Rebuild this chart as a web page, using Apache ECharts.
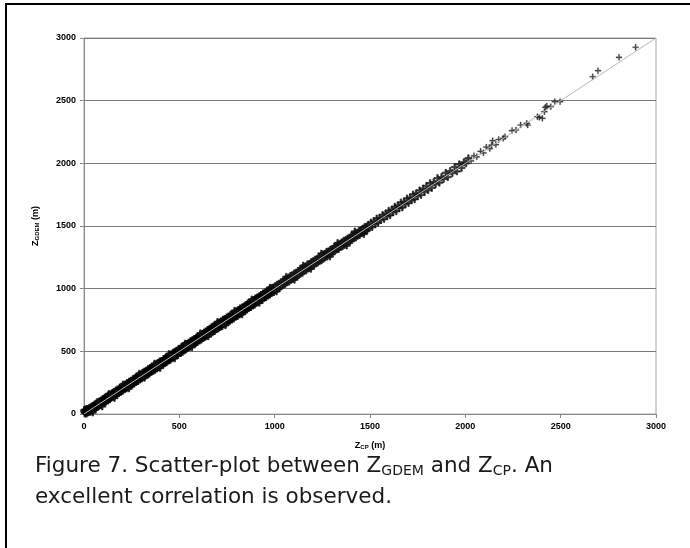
<!DOCTYPE html>
<html>
<head>
<meta charset="utf-8">
<script src="https://cdn.jsdelivr.net/npm/echarts@6/dist/echarts.min.js"></script>
<style>
html,body{margin:0;padding:0;background:#fff;}
#chart{width:690px;height:548px;}
</style>
</head>
<body>
<div id="chart"></div>
<script>
// Axis ticks
var xTicks = [0, 500, 1000, 1500, 2000, 2500, 3000];
var yTicks = [0, 500, 1000, 1500, 2000, 2500, 3000];

// [Z_CP, Z_GDEM] pairs
var band0to500 = [
[2,28],[4,12],[8,34],[12,6],[16,38],[20,15],[24,22],[28,44],[32,20],[35,50],[40,30],[42,58],[48,36],[50,64],[55,44],[58,74],[62,52],[66,82],[70,58],[75,88],[78,66],[82,98],[88,74],[92,106],[96,86],[100,118],[105,92],[110,128],[114,100],[120,136],[124,108],[128,146],[134,118],[138,154],[142,132],[148,164],[152,138],[158,174],[162,148],[168,186],[172,156],[178,194],[182,168],[188,204],[192,178],[198,216],[202,186],[208,224],[212,198],[218,234],[222,206],[228,246],[232,216],[238,256],[242,224],[248,264],[252,238],[258,276],[262,244],[268,284],[272,256],[278,298],[282,264],[288,306],[292,276],[298,314],[302,286],[308,328],[312,294],[318,336],[322,308],[328,344],[332,316],[338,358],[342,324],[348,366],[352,338],[358,374],[362,346],[368,388],[372,354],[378,394],[382,366],[388,406],[392,374],[398,418],[402,388],[408,422],[412,394],[418,438],[422,406],[428,444],[432,414],[438,458],[442,428],[448,466],[452,434],[458,474],[462,446],[468,488],[472,454],[478,496],[482,468],[488,504],[492,474],[498,518]
];
var band500to1000 = [
[502,520],[506,488],[512,532],[516,498],[520,540],[526,510],[530,550],[534,518],[540,558],[544,530],[550,568],[554,538],[560,580],[564,546],[570,588],[574,558],[580,598],[584,568],[590,608],[594,576],[600,618],[604,588],[610,630],[614,596],[620,638],[624,608],[630,648],[634,618],[640,658],[644,626],[650,670],[654,638],[660,678],[664,644],[670,690],[674,658],[680,698],[684,664],[690,710],[694,678],[700,718],[704,686],[710,728],[714,696],[720,738],[724,704],[730,750],[734,718],[740,756],[744,724],[750,768],[754,738],[760,776],[764,746],[770,790],[774,756],[780,798],[784,764],[790,808],[794,778],[800,816],[804,784],[810,828],[814,796],[820,840],[824,804],[830,848],[834,818],[840,856],[844,826],[850,868],[854,834],[860,880],[864,848],[870,888],[874,854],[880,896],[884,866],[890,908],[894,874],[900,920],[904,888],[910,928],[914,894],[920,936],[924,908],[930,948],[934,912],[940,960],[944,928],[950,968],[954,934],[960,976],[964,946],[970,988],[974,954],[980,1000],[984,968],[990,1006],[994,974]
];
var band1000to1500 = [
[1002,1020],[1006,986],[1012,1032],[1016,998],[1022,1040],[1026,1008],[1032,1052],[1036,1018],[1042,1058],[1046,1030],[1052,1072],[1056,1038],[1062,1080],[1066,1050],[1072,1090],[1076,1056],[1082,1102],[1086,1070],[1092,1108],[1096,1078],[1102,1122],[1106,1090],[1112,1128],[1116,1096],[1122,1142],[1126,1108],[1132,1148],[1136,1120],[1142,1162],[1146,1126],[1152,1170],[1156,1140],[1162,1178],[1166,1146],[1172,1194],[1176,1160],[1182,1198],[1186,1166],[1192,1212],[1196,1180],[1202,1220],[1206,1186],[1212,1232],[1216,1200],[1222,1238],[1226,1208],[1232,1252],[1236,1220],[1242,1260],[1246,1226],[1252,1272],[1256,1238],[1262,1278],[1266,1250],[1272,1294],[1276,1256],[1282,1298],[1286,1270],[1292,1312],[1296,1278],[1302,1318],[1306,1292],[1312,1332],[1316,1298],[1322,1338],[1326,1312],[1332,1352],[1336,1316],[1342,1358],[1346,1332],[1352,1370],[1356,1338],[1362,1382],[1366,1348],[1372,1388],[1376,1360],[1382,1400],[1386,1368],[1392,1408],[1396,1380],[1402,1422],[1406,1388],[1412,1426],[1416,1402],[1422,1442],[1426,1408],[1432,1446],[1436,1422],[1442,1462],[1446,1428],[1452,1466],[1456,1442],[1462,1480],[1466,1448],[1472,1492],[1476,1462],[1482,1496],[1486,1468],[1492,1510],[1496,1482]
];
var band1500to2000 = [
[1505,1528],[1512,1492],[1520,1540],[1528,1514],[1535,1560],[1542,1526],[1550,1566],[1558,1548],[1566,1588],[1574,1556],[1582,1600],[1590,1578],[1598,1622],[1606,1586],[1614,1630],[1622,1612],[1630,1654],[1638,1618],[1646,1664],[1654,1644],[1662,1688],[1670,1648],[1678,1694],[1686,1676],[1694,1720],[1702,1684],[1710,1726],[1718,1706],[1726,1752],[1734,1714],[1742,1760],[1750,1738],[1760,1784],[1768,1748],[1778,1798],[1786,1772],[1796,1820],[1805,1786],[1815,1842],[1824,1804],[1834,1850],[1844,1834],[1854,1882],[1864,1846],[1875,1890],[1886,1876],[1897,1924],[1908,1890],[1920,1938],[1932,1922],[1944,1970],[1956,1936],[1968,1992],[1980,1964],[1992,2008],[2004,2000],[2016,2040]
];
var band2000to2500 = [
[2030,2020],[2045,2060],[2060,2052],[2080,2096],[2095,2084],[2110,2130],[2128,2118],[2143,2181],[2138,2146],[2160,2150],[2175,2190],[2199,2200],[2208,2213],[2245,2261],[2266,2266],[2290,2306],[2322,2319],[2327,2306],[2378,2372],[2388,2367],[2404,2359],[2415,2412],[2420,2447],[2427,2457],[2448,2452],[2469,2492],[2497,2492]
];
var topPoints = [[2668,2691],[2696,2739],[2806,2846],[2893,2926]];
var fringe = [
[30,-2],[46,12],[70,96],[96,60],[130,160],[160,128],[205,236],[236,204],[290,322],[318,290],[370,402],[400,368],[445,478],[476,444],[530,562],[566,532],[610,644],[652,620],[700,734],[742,708],[790,824],[830,796],[880,914],[920,888],[975,1008],[1010,978],[1060,1094],[1104,1072],[1150,1184],[1190,1158],[1245,1280],[1290,1256],[1330,1364],[1378,1344],[1420,1456],[1468,1436]
];
// 1:1 reference line end points
var oneToOne = [[0,0],[3000,3000]];

var densePoints = [].concat(band0to500, band500to1000);
var midPoints = [].concat(band1000to1500, band1500to2000, fringe);
var sparsePoints = [].concat(band2000to2500, topPoints);

var plus = 'path://M4,0L6,0L6,4L10,4L10,6L6,6L6,10L4,10L4,6L0,6L0,4L4,4Z';
var chart = echarts.init(document.getElementById('chart'), null, {renderer: 'canvas'});
var lblFont = {color: '#000', fontSize: 9, fontWeight: 'bold', fontFamily: 'Liberation Sans, Arial, sans-serif',
  formatter: function (v) { return String(v); }};

chart.setOption({
  animation: false,
  backgroundColor: '#fff',
  grid: {left: 84, right: 34, top: 38, bottom: 134, show: true, borderColor: '#a8a8a8', borderWidth: 1, backgroundColor: 'transparent'},
  xAxis: {
    type: 'value', min: xTicks[0], max: xTicks[xTicks.length - 1], interval: 500,
    name: '{z|Z}{s|CP}{z| (m)}', nameLocation: 'middle', nameGap: 27,
    nameTextStyle: {rich: {
      z: {fontSize: 9, fontWeight: 'bold', fontFamily: 'Liberation Sans, Arial', color: '#000'},
      s: {fontSize: 6, fontWeight: 'bold', fontFamily: 'Liberation Sans, Arial', color: '#000', padding: [3, 0, 0, 0]}
    }},
    axisLine: {lineStyle: {color: '#8a8a8a', width: 1}},
    axisTick: {show: true, inside: false, length: 4, lineStyle: {color: '#8a8a8a'}},
    axisLabel: Object.assign({margin: 8}, lblFont),
    splitLine: {show: false}
  },
  yAxis: {
    type: 'value', min: yTicks[0], max: yTicks[yTicks.length - 1], interval: 500,
    name: '{z|Z}{s|GDEM}{z| (m)}', nameLocation: 'middle', nameGap: 44, nameRotate: 90,
    nameTextStyle: {rich: {
      z: {fontSize: 9, fontWeight: 'bold', fontFamily: 'Liberation Sans, Arial', color: '#000'},
      s: {fontSize: 6, fontWeight: 'bold', fontFamily: 'Liberation Sans, Arial', color: '#000', padding: [3, 0, 0, 0]}
    }},
    axisLine: {show: true, lineStyle: {color: '#8a8a8a', width: 1}},
    axisTick: {show: true, inside: false, length: 4, lineStyle: {color: '#8a8a8a'}},
    axisLabel: Object.assign({margin: 8}, lblFont),
    splitLine: {show: true, lineStyle: {color: '#7a7a7a', width: 1}}
  },
  series: [
    {
      type: 'scatter', data: densePoints, symbol: plus, symbolSize: 7,
      itemStyle: {color: '#000', borderColor: '#000', borderWidth: 1.3},
      z: 2
    },
    {
      type: 'scatter', data: midPoints, symbol: plus, symbolSize: 7,
      itemStyle: {color: '#111', borderColor: '#111', borderWidth: 0.8},
      z: 2
    },
    {
      type: 'scatter', data: sparsePoints, symbol: plus, symbolSize: 6,
      itemStyle: {color: '#222', borderColor: '#222', borderWidth: 0.3},
      z: 2
    },
    {
      type: 'line', data: oneToOne, symbol: 'none', silent: true,
      lineStyle: {color: '#b8b8b8', width: 1}, z: 3
    }
  ],
  graphic: [
    {type: 'line', shape: {x1: 6, y1: 3, x2: 6, y2: 548}, style: {stroke: '#000', lineWidth: 2}},
    {type: 'line', shape: {x1: 5, y1: 4, x2: 690, y2: 4}, style: {stroke: '#000', lineWidth: 2}},
    {type: 'text', left: 35, top: 455, style: {
      text: '{t|Figure 7. Scatter-plot between Z}{s|GDEM}{t| and Z}{s|CP}{t|. An}\n{t|excellent correlation is observed.}',
      rich: {
        t: {fontSize: 21.5, fontFamily: 'DejaVu Sans, sans-serif', fill: '#1a1a1a', lineHeight: 31},
        s: {fontSize: 14, fontFamily: 'DejaVu Sans, sans-serif', fill: '#1a1a1a', lineHeight: 31, padding: [9, 0, 0, 0]}
      }
    }}
  ]
});
</script>
</body>
</html>
